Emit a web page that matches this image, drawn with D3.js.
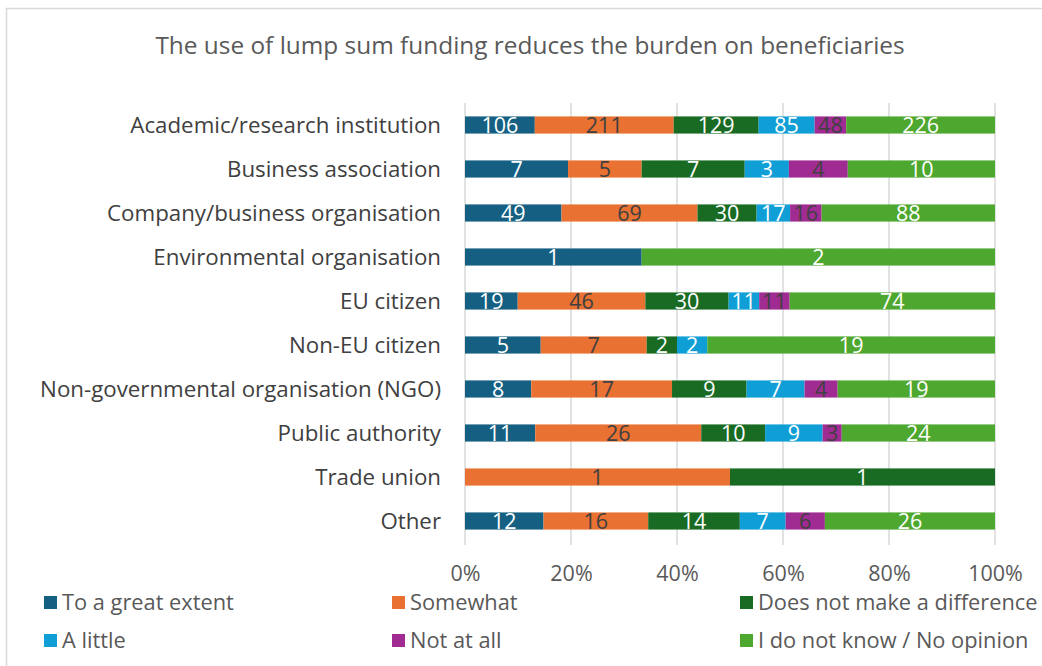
<!DOCTYPE html>
<html><head><meta charset="utf-8">
<script src="https://cdn.jsdelivr.net/npm/d3@7"></script>
<style>body{margin:0;background:#fff}</style>
</head><body>
<svg id="c" width="1042" height="666"></svg>
<script>
const title = "The use of lump sum funding reduces the burden on beneficiaries";
const categories = ["Academic/research institution","Business association","Company/business organisation","Environmental organisation","EU citizen","Non-EU citizen","Non-governmental organisation (NGO)","Public authority","Trade union","Other"];
const seriesNames = ["To a great extent","Somewhat","Does not make a difference","A little","Not at all","I do not know / No opinion"];
const greatExtent = [106,7,49,1,19,5,8,11,0,12];
const somewhat    = [211,5,69,0,46,7,17,26,1,16];
const noDifference= [129,7,30,0,30,2,9,10,1,14];
const aLittle     = [85,3,17,0,11,2,7,9,0,7];
const notAtAll    = [48,4,16,0,11,0,4,3,0,6];
const noOpinion   = [226,10,88,2,74,19,19,24,0,26];
const tickLabels = ["0%","20%","40%","60%","80%","100%"];
const colors = ["#156082","#E97132","#196B24","#0F9ED5","#A02B93","#4EA72E"];
const labelColors = ["#fff","#404040","#fff","#fff","#404040","#fff"];

const FONT = "Open Sans, Liberation Sans, Arial, sans-serif";
const series = [greatExtent,somewhat,noDifference,aLittle,notAtAll,noOpinion];
const rows = categories.map((c,i)=>{
  const vals = series.map(s=>s[i]);
  const tot = d3.sum(vals);
  let cum = 0;
  return {cat:c, segs: vals.map((v,k)=>{const s={k,v,x0:cum/tot,x1:(cum+v)/tot}; cum+=v; return s;})};
});

const svg = d3.select("#c");
svg.append("path").attr("d","M6.5,666 V8.5 H1042").attr("fill","none").attr("stroke","#d9d9d9").attr("stroke-width",1.5);

svg.append("text").attr("x",530).attr("y",54).attr("text-anchor","middle")
  .attr("font-family",FONT).attr("font-size",24.4).attr("fill","#595959").text(title);

const x = d3.scaleLinear().domain([0,1]).range([465,995]);
const y = d3.scaleBand().domain(categories).range([103,543]).paddingInner(0.61).paddingOuter(0.305);

svg.append("g").selectAll("line").data(d3.range(0,1.0001,0.2)).join("line")
  .attr("x1",d=>x(d)).attr("x2",d=>x(d)).attr("y1",103).attr("y2",545)
  .attr("stroke","#d9d9d9").attr("stroke-width",1.5);

const xAxis = d3.axisBottom(x).tickValues(d3.range(0,1.0001,0.2)).tickFormat((d,i)=>tickLabels[i]).tickSize(0);
const gx = svg.append("g").attr("transform","translate(0,563)").call(xAxis);
gx.select(".domain").remove();
gx.selectAll("text").attr("font-family",FONT).attr("font-size",21.5).attr("fill","#595959").attr("dy","0.71em");

const yAxis = d3.axisLeft(y).tickSize(0).tickPadding(24);
const gy = svg.append("g").attr("transform","translate(465,0)").call(yAxis);
gy.select(".domain").remove();
gy.selectAll("text").attr("font-family",FONT).attr("font-size",22.3).attr("fill","#404040").attr("dy","0.38em");

const rg = svg.append("g").selectAll("g").data(rows).join("g").attr("transform",d=>`translate(0,${y(d.cat)})`);
rg.selectAll("rect").data(d=>d.segs.filter(s=>s.v>0)).join("rect")
  .attr("x",s=>x(s.x0)).attr("width",s=>x(s.x1)-x(s.x0)).attr("y",0).attr("height",y.bandwidth())
  .attr("fill",s=>colors[s.k]);
rg.selectAll("text").data(d=>d.segs.filter(s=>s.v>0)).join("text")
  .attr("x",s=>(x(s.x0)+x(s.x1))/2).attr("y",y.bandwidth()/2).attr("dy","0.36em")
  .attr("text-anchor","middle").attr("font-family",FONT).attr("font-size",21.5)
  .attr("fill",s=>labelColors[s.k]).text(s=>s.v);

const legX = [44,392,740], legY=[602,640];
const lg = svg.append("g").selectAll("g").data(seriesNames).join("g")
  .attr("transform",(d,i)=>`translate(${legX[i%3]},${legY[Math.floor(i/3)]})`);
lg.append("rect").attr("x",0).attr("y",-6).attr("width",13).attr("height",13).attr("fill",(d,i)=>colors[i]);
lg.append("text").attr("x",18).attr("y",0).attr("dy","0.36em").attr("font-family",FONT)
  .attr("font-size",21.8).attr("fill","#595959").text(d=>d);
</script>
</body></html>
